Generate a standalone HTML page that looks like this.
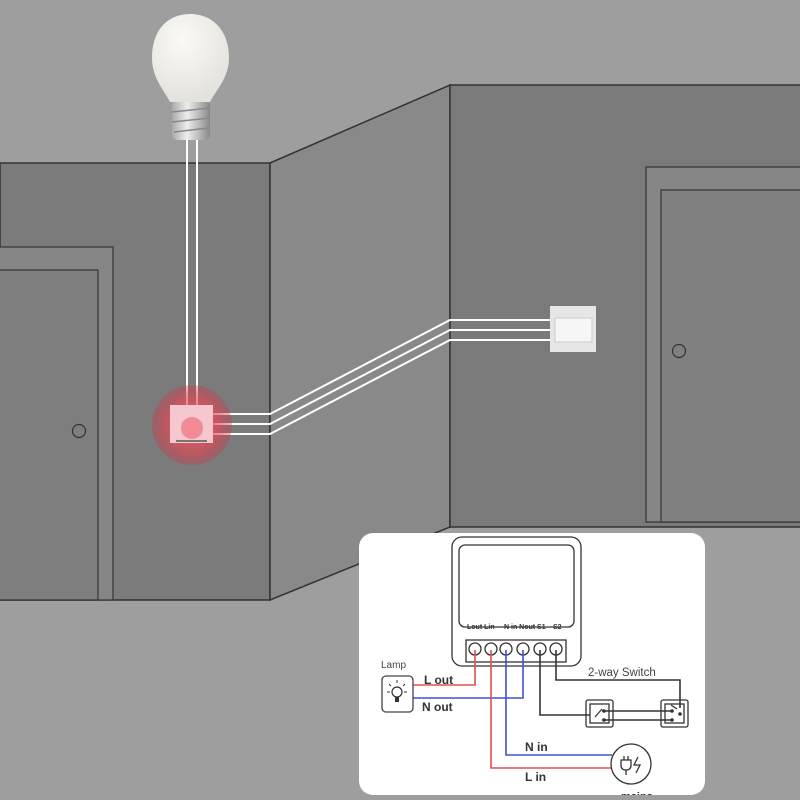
<!DOCTYPE html>
<html><head><meta charset="utf-8"><style>
html,body{margin:0;padding:0;width:800px;height:800px;overflow:hidden;background:#9e9e9e}
svg{display:block}
text{font-family:"Liberation Sans",sans-serif}
</style></head><body>
<svg width="800" height="800" viewBox="0 0 800 800" xmlns="http://www.w3.org/2000/svg">
<defs>
<radialGradient id="glow" cx="0.5" cy="0.5" r="0.5">
<stop offset="0" stop-color="#ff6070" stop-opacity="0.9"/>
<stop offset="0.7" stop-color="#e84050" stop-opacity="0.6"/>
<stop offset="1" stop-color="#d03040" stop-opacity="0.3"/>
</radialGradient>
<radialGradient id="bulb" cx="0.4" cy="0.3" r="0.7">
<stop offset="0" stop-color="#fbfaf6"/><stop offset="1" stop-color="#e4e2dc"/>
</radialGradient>
<linearGradient id="base" x1="0" x2="1"><stop offset="0" stop-color="#aaa"/><stop offset="0.4" stop-color="#eee"/><stop offset="1" stop-color="#888"/></linearGradient>
</defs>
<rect width="800" height="800" fill="#9e9e9e"/>
<rect x="0" y="163" width="270" height="437" fill="#7b7b7b" stroke="#333" stroke-width="1.5"/>
<polygon points="270,163 450,85 450,527 270,600" fill="#898989" stroke="#333" stroke-width="1.5"/>
<rect x="450" y="85" width="360" height="442" fill="#7a7a7a" stroke="#333" stroke-width="1.5"/>
<rect x="-5" y="247" width="118" height="353" fill="#858585" stroke="#333" stroke-width="1.2"/>
<rect x="-5" y="270" width="103" height="330" fill="#7e7e7e" stroke="#333" stroke-width="1.2"/>
<circle cx="79" cy="431" r="6.5" fill="none" stroke="#333" stroke-width="1.2"/>
<rect x="646" y="167" width="170" height="355" fill="#858585" stroke="#333" stroke-width="1.2"/>
<rect x="661" y="190" width="160" height="332" fill="#808080" stroke="#333" stroke-width="1.2"/>
<circle cx="679" cy="351" r="6.5" fill="none" stroke="#333" stroke-width="1.2"/>
<!-- bulb -->
<rect x="172" y="100" width="38" height="40" rx="6" fill="url(#base)"/>
<g stroke="#888" stroke-width="1.5"><line x1="172" y1="112" x2="210" y2="108"/><line x1="172" y1="122" x2="210" y2="118"/><line x1="174" y1="132" x2="208" y2="128"/></g>
<path d="M190,14 C214,14 229,32 229,58 C229,78 216,90 210,102 L170,102 C164,90 152,78 152,58 C152,32 166,14 190,14 Z" fill="url(#bulb)"/>
<g stroke="#fff" stroke-width="2" fill="none">
<line x1="187" y1="140" x2="187" y2="410"/>
<line x1="197" y1="140" x2="197" y2="410"/>
<polyline points="213,414 270,414 450,320 552,320"/>
<polyline points="213,424 270,424 450,330 552,330"/>
<polyline points="213,434 270,434 450,340 552,340"/>
</g>
<circle cx="192" cy="425" r="40" fill="url(#glow)"/>
<rect x="170" y="405" width="43" height="38" fill="#f4c8cc"/>
<circle cx="192" cy="428" r="11" fill="#f08a94"/>
<line x1="176" y1="441" x2="207" y2="441" stroke="#555" stroke-width="1.5"/>
<rect x="550" y="306" width="46" height="46" fill="#e6e6e6"/>
<rect x="555" y="318" width="37" height="24" fill="#f6f6f6" stroke="#ccc"/>
<rect x="359" y="533" width="346" height="262" rx="14" fill="#fff"/>
<g fill="none" stroke="#333" stroke-width="1.3">
<rect x="452" y="537" width="129" height="129" rx="10"/>
<rect x="459" y="545" width="115" height="82" rx="6"/>
<rect x="466" y="640" width="100" height="22"/>
<circle cx="475" cy="649" r="6"/><circle cx="491" cy="649" r="6"/><circle cx="506" cy="649" r="6"/>
<circle cx="523" cy="649" r="6"/><circle cx="540" cy="649" r="6"/><circle cx="556" cy="649" r="6"/>
</g>
<text x="467" y="629" font-size="7" font-weight="bold" fill="#333">Lout Lin</text>
<text x="504" y="629" font-size="7" font-weight="bold" fill="#333">N in Nout S1</text>
<text x="553" y="629" font-size="7" font-weight="bold" fill="#333">S2</text>
<g fill="none" stroke-width="1.6">
<polyline points="475,650 475,685 413,685" stroke="#e05050"/>
<polyline points="523,650 523,698 413,698" stroke="#4050d0"/>
<polyline points="506,650 506,755 612,755" stroke="#4050d0"/>
<polyline points="491,650 491,768 612,768" stroke="#e05050"/>
<polyline points="540,650 540,715 590,715" stroke="#333"/>
<polyline points="556,650 556,680 680,680 680,708" stroke="#333"/>
<line x1="602" y1="711" x2="672" y2="711" stroke="#333"/>
<line x1="602" y1="720" x2="672" y2="720" stroke="#333"/>
</g>
<g fill="none" stroke="#333" stroke-width="1.3">
<rect x="586" y="700" width="27" height="27" rx="2"/><rect x="590" y="704" width="19" height="19"/>
<rect x="661" y="700" width="27" height="27" rx="2"/><rect x="665" y="704" width="19" height="19"/>
<line x1="595" y1="717" x2="602" y2="709"/><line x1="677" y1="709" x2="671" y2="705"/>
</g>
<g fill="#333"><circle cx="604" cy="711" r="1.8"/><circle cx="604" cy="720" r="1.8"/><circle cx="672" cy="711" r="1.8"/><circle cx="672" cy="720" r="1.8"/><circle cx="680" cy="714" r="1.8"/></g>
<text x="588" y="676" font-size="11.5" fill="#444">2-way Switch</text>
<text x="381" y="668" font-size="10" fill="#444">Lamp</text>
<rect x="382" y="676" width="31" height="36" rx="4" fill="none" stroke="#444" stroke-width="1.3"/>
<circle cx="397" cy="692" r="5" fill="none" stroke="#333" stroke-width="1.2"/>
<rect x="395" y="697" width="4" height="5" fill="#333"/>
<g stroke="#333" stroke-width="1"><line x1="397" y1="680" x2="397" y2="683"/><line x1="387" y1="692" x2="390" y2="692"/><line x1="404" y1="692" x2="407" y2="692"/><line x1="389" y1="684" x2="391" y2="686"/><line x1="405" y1="684" x2="403" y2="686"/></g>
<text x="424" y="684" font-size="12" font-weight="bold" fill="#333">L out</text>
<text x="422" y="711" font-size="12" font-weight="bold" fill="#333">N out</text>
<text x="525" y="751" font-size="12" font-weight="bold" fill="#333">N in</text>
<text x="525" y="781" font-size="12" font-weight="bold" fill="#333">L in</text>
<circle cx="631" cy="764" r="20" fill="#fff" stroke="#333" stroke-width="1.3"/>
<g fill="none" stroke="#333" stroke-width="1.3">
<path d="M621,760 L631,760 L631,765 Q631,770 626,770 Q621,770 621,765 Z"/>
<line x1="624" y1="760" x2="624" y2="756"/><line x1="628" y1="760" x2="628" y2="756"/>
<line x1="626" y1="770" x2="626" y2="775"/>
<polyline points="638,757 634,765 640,765 636,773"/>
</g>
<text x="621" y="800" font-size="11" font-weight="bold" fill="#333">mains</text>
<rect x="359" y="795" width="350" height="5" fill="#9e9e9e"/>
</svg>
</body></html>
